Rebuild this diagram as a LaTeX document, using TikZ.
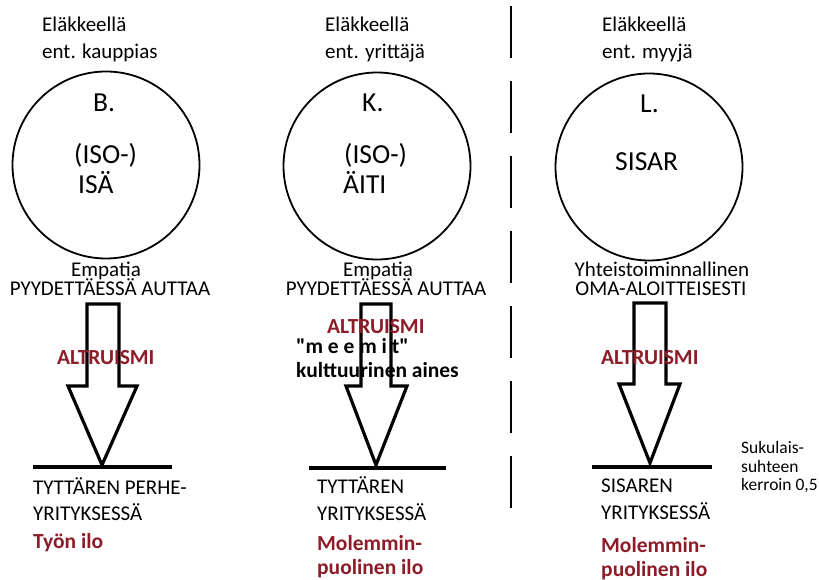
\documentclass[tikz,border=0pt]{standalone}
\usepackage{fontspec}
\setmainfont{Carlito}[Ligatures=TeXOff]
\definecolor{altred}{RGB}{140,28,40}
\tikzset{
  txt/.style={inner sep=0pt, anchor=base west, font=\fontsize{21}{25}\selectfont},
  ctxt/.style={inner sep=0pt, anchor=base, font=\fontsize{21}{25}\selectfont},
  big/.style={inner sep=0pt, anchor=base west, font=\fontsize{27.5}{32}\selectfont},
  redbold/.style={txt, text=altred, font=\fontsize{21.5}{25}\selectfont\bfseries},
  blackbold/.style={txt, font=\fontsize{21.5}{25}\selectfont\bfseries},
  small/.style={inner sep=0pt, anchor=base west, font=\fontsize{17.5}{20}\selectfont},
  person/.style={circle, draw, line width=1.8pt, minimum size=187pt, inner sep=0pt},
  blockarrow/.style={draw, line width=3.2pt, line join=miter, fill=none},
  ground/.style={draw, line width=3.2pt},
  divider/.style={draw, line width=2pt, dash pattern=on 52pt off 23pt}
}
\begin{document}
\begin{tikzpicture}[x=1pt, y=-1pt]
\path[use as bounding box] (0,0) rectangle (819,580);

% --- persons ---
\node[person] (c1) at (106,165) {};
\node[person] (c2) at (377,166) {};
\node[person] (c3) at (649,167) {};

% --- headings above the circles ---
\node[txt] (h1a) at (42,32) {Eläkkeellä};
\node[txt] (h1b) at (42,59) {ent. kauppias};
\node[txt] (h2a) at (325,32) {Eläkkeellä};
\node[txt] (h2b) at (325,59) {ent. yrittäjä};
\node[txt] (h3a) at (602,32) {Eläkkeellä};
\node[txt] (h3b) at (602,59) {ent. myyjä};

% --- texts inside the circles ---
\node[big] (b1) at (93,112) {B.};
\node[big] (i1) at (74,164) {(ISO-)};
\node[big] (p1) at (78,194) {ISÄ};
\node[big] (b2) at (362,112) {K.};
\node[big] (i2) at (344,164) {(ISO-)};
\node[big] (p2) at (343,194) {ÄITI};
\node[big] (b3) at (640,113) {L.};
\node[big] (p3) at (615,171) {SISAR};

% --- texts under the circles ---
\node[ctxt] (e1) at (106,276) {Empatia};
\node[ctxt] (a1) at (110,295) {PYYDETTÄESSÄ AUTTAA};
\node[ctxt] (e2) at (378,276) {Empatia};
\node[ctxt] (a2) at (386,295) {PYYDETTÄESSÄ AUTTAA};
\node[ctxt] (e3) at (662,276) {Yhteistoiminnallinen};
\node[ctxt] (a3) at (661,295) {OMA-ALOITTEISESTI};

% --- block arrows ---
\draw[blockarrow] (87,304) -- (119,304) -- (119,386) -- (137,386) -- (102,465)
  -- (68,386) -- (87,386) -- cycle;
\draw[blockarrow] (361,304) -- (391,304) -- (391,386) -- (407,386) -- (376,465)
  -- (346,386) -- (361,386) -- cycle;
\draw[blockarrow] (634,303) -- (666,303) -- (666,384) -- (680,384) -- (650,463)
  -- (619,384) -- (634,384) -- cycle;

% --- ground lines ---
\coordinate (g1l) at (33,467);  \coordinate (g1r) at (172,467);
\coordinate (g2l) at (309,468); \coordinate (g2r) at (446,468);
\coordinate (g3l) at (592,467); \coordinate (g3r) at (712,467);
\draw[ground] (g1l) -- (g1r);
\draw[ground] (g2l) -- (g2r);
\draw[ground] (g3l) -- (g3r);

% --- labels on the arrows ---
\node[redbold] (r1) at (57,364) {ALTRUISMI};
\node[redbold] (r2) at (327,333) {ALTRUISMI};
\node[redbold] (r3) at (601,364) {ALTRUISMI};
\node[blackbold] (m1) at (296,353) {"m e e m i t"};
\node[blackbold] (m2) at (296,377) {kulttuurinen aines};

% --- texts under the ground lines ---
\node[txt] (t1a) at (33,494) {TYTTÄREN PERHE-};
\node[txt] (t1b) at (33,520) {YRITYKSESSÄ};
\node[redbold] (t1c) at (33,548) {Työn ilo};
\node[txt] (t2a) at (317,493) {TYTTÄREN};
\node[txt] (t2b) at (317,520) {YRITYKSESSÄ};
\node[redbold] (t2c) at (317,550) {Molemmin-};
\node[redbold] (t2d) at (317,574) {puolinen ilo};
\node[txt] (t3a) at (601,492) {SISAREN};
\node[txt] (t3b) at (601,519) {YRITYKSESSÄ};
\node[redbold] (t3c) at (601,552) {Molemmin-};
\node[redbold] (t3d) at (601,576) {puolinen ilo};

\node[small] (k1) at (741,453) {Sukulais-};
\node[small] (k2) at (741,472) {suhteen};
\node[small] (k3) at (741,490) {kerroin 0,5};

% --- dashed divider ---
\coordinate (dtop) at (511,6);
\coordinate (dbot) at (511,512);
\draw[divider] (dtop) -- (dbot);
\end{tikzpicture}
\end{document}
